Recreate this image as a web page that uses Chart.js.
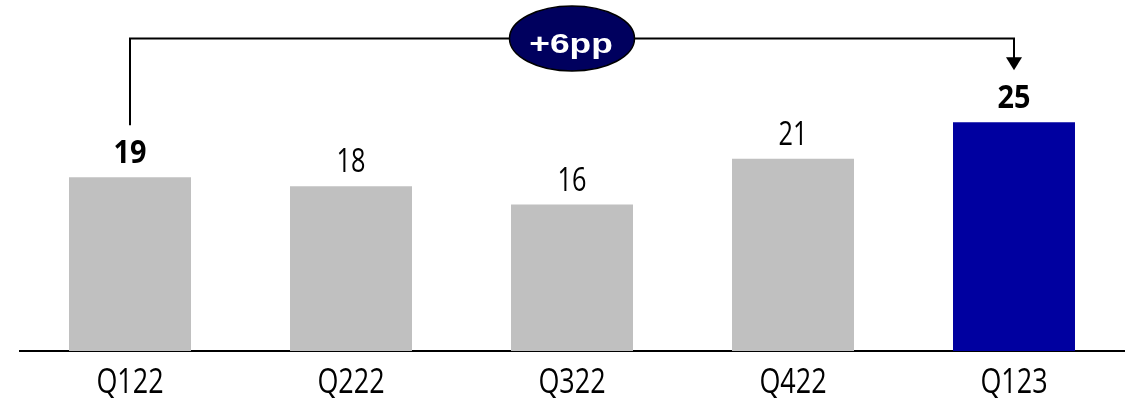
<!DOCTYPE html>
<html>
<head>
<meta charset="utf-8">
<script src="https://cdn.jsdelivr.net/npm/chart.js@4/dist/chart.umd.min.js"></script>
<style>
  html, body { margin: 0; padding: 0; background: #fff; }
  #wrap { width: 1130px; height: 398px; position: relative; }
</style>
</head>
<body>
<div id="wrap"><canvas id="quarterChart"></canvas></div>
<script>
// Chart data
const categories = ['Q122', 'Q222', 'Q322', 'Q422', 'Q123'];
const values = [19, 18, 16, 21, 25];
const boldLabels = [true, false, false, false, true];
const barColors = ['#C0C0C0', '#C0C0C0', '#C0C0C0', '#C0C0C0', '#0000A0'];
const changeText = '+6pp';

const FONT = "'Open Sans', 'Noto Sans', sans-serif";

// Draw text scaled horizontally (the original uses narrow / wide faces)
const drawScaledText = (ctx, text, x, y, scaleX) => {
    ctx.save();
    ctx.translate(x, y);
    ctx.scale(scaleX, 1);
    ctx.fillText(text, 0, 0);
    ctx.restore();
};

// Value labels above each bar
const valueLabels = {
    id: 'valueLabels',
    afterDatasetsDraw(chart) {
        const { ctx } = chart;
        const bars = chart.getDatasetMeta(0).data;
        ctx.save();
        ctx.fillStyle = '#000';
        ctx.textAlign = 'center';
        ctx.textBaseline = 'alphabetic';
        bars.forEach((bar, i) => {
            ctx.font = (boldLabels[i] ? 'bold ' : '') + '32px ' + FONT;
            drawScaledText(ctx, String(values[i]), bar.x, bar.y - 14, boldLabels[i] ? 0.9 : 0.79);
        });
        ctx.restore();
    }
};

// Category labels under the axis
const categoryLabels = {
    id: 'categoryLabels',
    afterDraw(chart) {
        const { ctx, chartArea } = chart;
        const xScale = chart.scales.x;
        ctx.save();
        ctx.fillStyle = '#000';
        ctx.textAlign = 'center';
        ctx.textBaseline = 'alphabetic';
        ctx.font = '35px ' + FONT;
        categories.forEach((label, i) => {
            drawScaledText(ctx, label, xScale.getPixelForValue(i), chartArea.bottom + 42, 0.77);
        });
        ctx.restore();
    }
};

// Bracket from first to last bar with the change bubble
const changeBracket = {
    id: 'changeBracket',
    afterDatasetsDraw(chart) {
        const { ctx } = chart;
        const bars = chart.getDatasetMeta(0).data;
        const first = bars[0];
        const last = bars[bars.length - 1];
        const topY = 38.5;
        const startY = first.y - 52;
        const tipY = last.y - 52;

        ctx.save();
        ctx.strokeStyle = '#000';
        ctx.lineWidth = 2;
        ctx.beginPath();
        ctx.moveTo(first.x, startY);
        ctx.lineTo(first.x, topY);
        ctx.lineTo(last.x, topY);
        ctx.lineTo(last.x, tipY - 12);
        ctx.stroke();

        // arrow head
        ctx.fillStyle = '#000';
        ctx.beginPath();
        ctx.moveTo(last.x - 8, tipY - 13);
        ctx.lineTo(last.x + 8, tipY - 13);
        ctx.lineTo(last.x, tipY);
        ctx.closePath();
        ctx.fill();

        // bubble
        const cx = (first.x + last.x) / 2;
        ctx.beginPath();
        ctx.ellipse(cx, topY, 62.5, 32.5, 0, 0, Math.PI * 2);
        ctx.fillStyle = '#00005E';
        ctx.fill();
        ctx.lineWidth = 1.5;
        ctx.stroke();

        ctx.fillStyle = '#fff';
        ctx.font = "bold 28.5px 'Liberation Sans', Arial, sans-serif";
        ctx.textAlign = 'center';
        ctx.textBaseline = 'alphabetic';
        drawScaledText(ctx, changeText, cx - 1, 53, 1.24);
        ctx.restore();
    }
};

const init = () => {
    const ctx = document.querySelector('#quarterChart');
    new Chart(ctx, {
        type: 'bar',
        data: {
            labels: categories,
            datasets: [{
                data: values,
                backgroundColor: barColors,
                borderWidth: 0,
                categoryPercentage: 1,
                barPercentage: 0.552
            }]
        },
        options: {
            responsive: true,
            maintainAspectRatio: false,
            animation: false,
            layout: {
                padding: { left: 19.5, right: 5.5, top: 76.5, bottom: 47 }
            },
            plugins: {
                legend: { display: false },
                tooltip: { enabled: false },
                title: { display: false }
            },
            scales: {
                x: {
                    grid: { display: false, drawTicks: false },
                    border: { display: true, color: '#000', width: 2 },
                    ticks: { display: false }
                },
                y: {
                    display: false,
                    min: 0,
                    max: 30
                }
            }
        },
        plugins: [valueLabels, changeBracket, categoryLabels]
    });
};

if (document.readyState === 'loading') {
    document.addEventListener('DOMContentLoaded', init);
} else {
    init();
}
</script>
</body>
</html>
